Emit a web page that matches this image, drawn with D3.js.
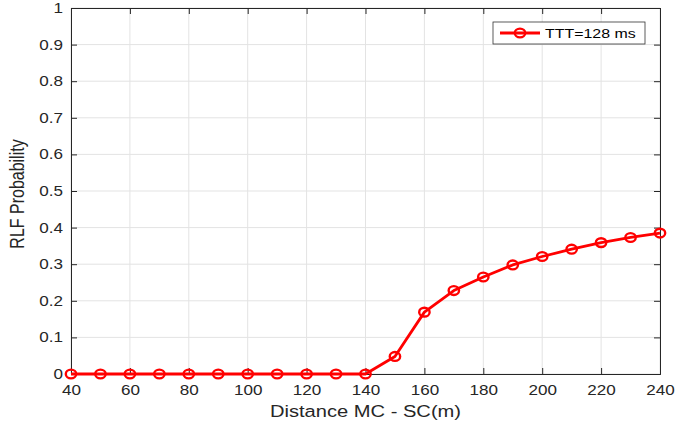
<!DOCTYPE html>
<html>
<head>
<meta charset="utf-8">
<script src="https://cdn.jsdelivr.net/npm/d3@7"></script>
<style>
  html, body { margin: 0; padding: 0; background: #fff; }
  svg { display: block; font-family: "Liberation Sans", Arial, sans-serif; }
</style>
</head>
<body>
<svg id="chart" width="676" height="423"></svg>
<script>
// RLF probability vs. distance between macro cell and small cell
const distances = [40, 50, 60, 70, 80, 90, 100, 110, 120, 130, 140, 150, 160, 170, 180, 190, 200, 210, 220, 230, 240];
const rlfProb   = [0, 0, 0, 0, 0, 0, 0, 0, 0, 0, 0, 0.048, 0.169, 0.228, 0.265, 0.298, 0.321, 0.341, 0.359, 0.373, 0.385];
const xTicks = [40, 60, 80, 100, 120, 140, 160, 180, 200, 220, 240];
const yTicks = [0, 0.1, 0.2, 0.3, 0.4, 0.5, 0.6, 0.7, 0.8, 0.9, 1];
const seriesName = "TTT=128 ms";

const svg = d3.select("#chart");
const plotL = 71, plotR = 660, plotT = 8, plotB = 374;
const sx = 1.22; // horizontal widening of glyphs

const x = d3.scaleLinear().domain([40, 240]).range([plotL, plotR]);
const y = d3.scaleLinear().domain([0, 1]).range([plotB, plotT]);

// grid
const grid = svg.append("g");
grid.selectAll("line.gx").data(xTicks).join("line")
  .attr("x1", d => x(d)).attr("x2", d => x(d))
  .attr("y1", plotT).attr("y2", plotB)
  .attr("stroke", "#e3e3e3").attr("stroke-width", 1);
grid.selectAll("line.gy").data(yTicks).join("line")
  .attr("x1", plotL).attr("x2", plotR)
  .attr("y1", d => y(d)).attr("y2", d => y(d))
  .attr("stroke", "#e3e3e3").attr("stroke-width", 1);

// axes (ticks inward, mirrored on top/right)
const ink = "#262626";
const bottomAxis = d3.axisBottom(x).tickValues(xTicks).tickSize(-6).tickPadding(11).tickFormat(d3.format("d"));
const leftAxis = d3.axisLeft(y).tickValues(yTicks).tickSize(-6).tickPadding(8)
  .tickFormat(d => d === 0 ? "0" : d === 1 ? "1" : d3.format(".1f")(d));
const topAxis = d3.axisTop(x).tickValues(xTicks).tickSize(-6).tickFormat("");
const rightAxis = d3.axisRight(y).tickValues(yTicks).tickSize(-6).tickFormat("");

function style(g) {
  g.select(".domain").attr("stroke", ink).attr("stroke-width", 1);
  g.selectAll(".tick line").attr("stroke", ink);
  g.selectAll(".tick text").attr("fill", ink).attr("font-size", 14)
    .attr("font-family", "'Liberation Sans', Arial, sans-serif");
}
svg.append("g").attr("transform", `translate(0,${plotB})`).call(bottomAxis).call(style)
  .selectAll(".tick text").attr("transform", `scale(${sx},1)`);
svg.append("g").attr("transform", `translate(${plotL},0)`).call(leftAxis).call(style)
  .selectAll(".tick text").attr("x", -8 / sx).attr("transform", `scale(${sx},1)`);
svg.append("g").attr("transform", `translate(0,${plotT})`).call(topAxis).call(style);
svg.append("g").attr("transform", `translate(${plotR},0)`).call(rightAxis).call(style);

// axis titles
svg.append("text").attr("transform", `translate(${(plotL + plotR) / 2},417) scale(${sx},1)`)
  .attr("text-anchor", "middle").attr("font-size", 16.5).attr("fill", ink)
  .text("Distance MC - SC(m)");
svg.append("text").attr("transform", `translate(24,194) scale(${sx},1) rotate(-90)`)
  .attr("text-anchor", "middle").attr("font-size", 16).attr("fill", ink)
  .text("RLF Probability");

// series
const red = "#ff0000";
const line = d3.line().x((d, i) => x(distances[i])).y(d => y(d));
svg.append("path").datum(rlfProb).attr("d", line)
  .attr("fill", "none").attr("stroke", red).attr("stroke-width", 2.8).attr("stroke-linejoin", "round");
svg.append("g").selectAll("ellipse").data(rlfProb).join("ellipse")
  .attr("cx", (d, i) => x(distances[i])).attr("cy", d => y(d)).attr("rx", 5.2).attr("ry", 4.4)
  .attr("fill", "none").attr("stroke", red).attr("stroke-width", 2.4);

// legend
const lg = svg.append("g").attr("transform", "translate(493,22)");
lg.append("rect").attr("width", 152).attr("height", 22)
  .attr("fill", "#fff").attr("stroke", "#333").attr("stroke-width", 0.8);
lg.append("line").attr("x1", 7).attr("x2", 47).attr("y1", 11).attr("y2", 11)
  .attr("stroke", red).attr("stroke-width", 2.8);
lg.append("ellipse").attr("cx", 27).attr("cy", 11).attr("rx", 5.2).attr("ry", 4.4)
  .attr("fill", "none").attr("stroke", red).attr("stroke-width", 2.4);
lg.append("text").attr("transform", `translate(52,16) scale(${sx * 1.02},1)`)
  .attr("font-size", 12.8).attr("fill", "#000")
  .text(seriesName);
</script>
</body>
</html>
